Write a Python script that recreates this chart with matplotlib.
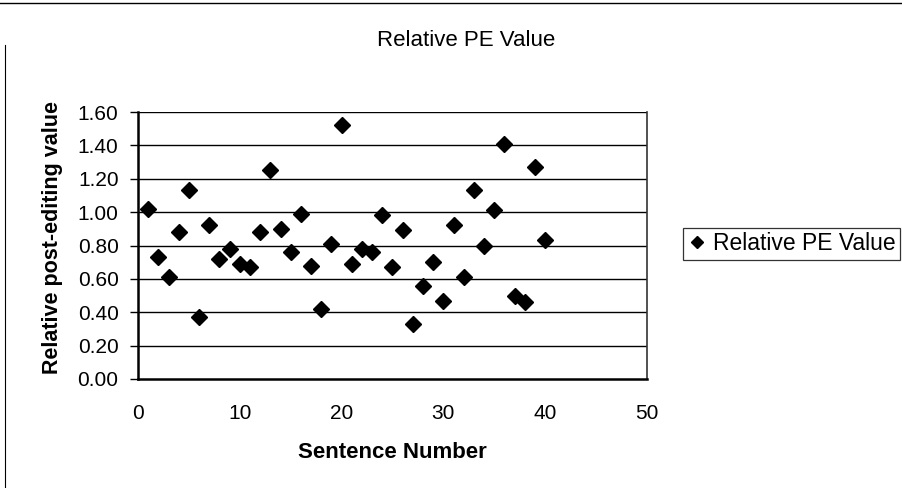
import matplotlib
matplotlib.use("Agg")
import matplotlib.pyplot as plt
from matplotlib.lines import Line2D

plt.rcParams['font.family'] = ['Liberation Sans', 'DejaVu Sans']

sentence = list(range(1, 41))
pe_value = [1.02, 0.73, 0.61, 0.88, 1.13, 0.37, 0.92, 0.72, 0.78, 0.69,
            0.67, 0.88, 1.25, 0.90, 0.76, 0.99, 0.68, 0.42, 0.81, 1.52,
            0.69, 0.78, 0.76, 0.98, 0.67, 0.89, 0.33, 0.56, 0.70, 0.47,
            0.92, 0.61, 1.13, 0.80, 1.01, 1.41, 0.50, 0.46, 1.27, 0.83]
x_ticks = [0, 10, 20, 30, 40, 50]
y_ticks = [0.0, 0.2, 0.4, 0.6, 0.8, 1.0, 1.2, 1.4, 1.6]
series_name = "Relative PE Value"
title = "Relative PE Value"
x_title = "Sentence Number"
y_title = "Relative post-editing value"

W, H = 903, 488
fig = plt.figure(figsize=(W/100, H/100), dpi=100)
ax = fig.add_axes([138/W, 1-379/H, (647-138)/W, (379-112)/H])

for y in y_ticks[1:]:
    ax.axhline(y, color='black', lw=1.0, zorder=1)

ax.plot(sentence, pe_value, linestyle='none', marker='D', ms=8.5,
        color='black', zorder=3, clip_on=False)

ax.set_xlim(0, 50)
ax.set_ylim(0, 1.6)
ax.set_xticks(x_ticks)
ax.set_yticks(y_ticks)
ax.set_yticklabels([f"{v:.2f}" for v in y_ticks])
ax.tick_params(axis='y', direction='out', length=6, width=1.0, labelsize=15, pad=8)
ax.tick_params(axis='x', length=0, labelsize=15, pad=18)

for s in ['left', 'bottom']:
    ax.spines[s].set_linewidth(1.8)
    ax.spines[s].set_color('black')
ax.spines['right'].set_linewidth(1.2)
ax.spines['right'].set_color('#333333')
ax.spines['top'].set_visible(False)

ax.set_xlabel(x_title, fontsize=16, fontweight='bold')
ax.xaxis.set_label_coords(0.5, (379-452)/267)
ax.xaxis.label.set_va('center')
ax.set_ylabel(y_title, fontsize=15.5, fontweight='bold')
ax.yaxis.set_label_coords((53-138)/509, (379-237)/267)
ax.yaxis.label.set_va('center')

fig.text(466/W, 1-41/H, title, ha='center', va='center', fontsize=16)

handle = Line2D([], [], linestyle='none', marker='D', ms=6.5, color='black')
leg = fig.legend([handle], [series_name], loc='center left',
                 bbox_to_anchor=(683/W, 1-244/H), frameon=True,
                 fontsize=16.5, handletextpad=0.3, borderpad=0.2,
                 handlelength=0.8, fancybox=False, borderaxespad=0)
leg.get_frame().set_edgecolor('black')
leg.get_frame().set_linewidth(0.9)

# page border lines from the scan
fig.add_artist(Line2D([0.0, 1.0], [1-3/H, 1-3/H], color='black', lw=1.0,
                      transform=fig.transFigure))
fig.add_artist(Line2D([5/W, 5/W], [0.0, 1-45/H], color='black', lw=0.8,
                      transform=fig.transFigure))

fig.savefig("out.png", dpi=100)
